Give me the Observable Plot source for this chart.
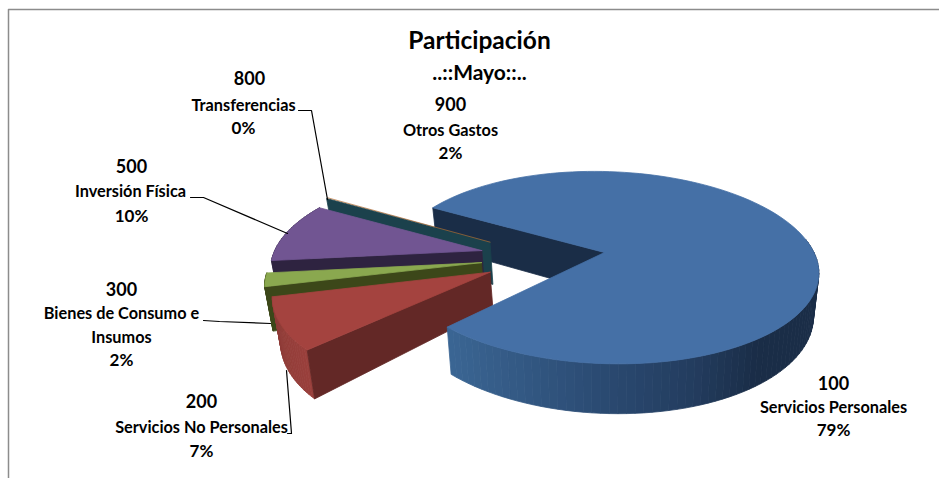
<!DOCTYPE html>
<html lang="es">
<head>
<meta charset="utf-8">
<style>html,body{margin:0;padding:0;background:#fff}svg{display:block}</style>
<script src="https://cdn.jsdelivr.net/npm/d3@7"></script>
<script src="https://cdn.jsdelivr.net/npm/@observablehq/plot@0.6"></script>
</head>
<body>
<div id="chart"></div>
<script>
// ---- data ----
const codes = ["100", "200", "300", "500", "800", "900"];
const names = ["Servicios Personales", "Servicios No Personales", "Bienes de Consumo e Insumos", "Inversión Física", "Transferencias", "Otros Gastos"];
const percentLabels = ["79%", "7%", "2%", "10%", "0%", "2%"];
// share of the turn each slice takes up as it is drawn
const drawnShares = [78.9, 8.6, 2.2, 10, 0.15, 0.15];

// ---- styles ----
const topColors = ["#4570a6", "#a4433f", "#8aa84f", "#715592", "#1b414c", "#b06a30"];
const wallColors = ["#1a2d47", "#632826", "#3c4719", "#2e2340", "#1b414c", "#1b414c"];
const rimColors = [null, ["#8a3935", "#9a403c"], ["#3c4719", "#3c4719"], ["#2e2340", "#2e2340"], null, null];
const blueRim = d3.scaleLinear().domain([447, 600, 700, 760, 820]).range(["#3b6694", "#2b4b73", "#233c5e", "#1a2d47", "#1a2d47"]);

// ---- pie view ----
const view = {cx: 604, cy: 252, rx: 212, ry: 95, persp: 0.159, depth: 42, shrink: 0.975, startAngle: 211};
const explodeDist = [0, 0.56, 0.58, 0.58, 0.557, 0.557];
const explodeDir = [0, 159, 169.6, 182, 191.5, 191.5];
const sliceRadius = [0.988, 0.965, 0.975, 0.98, 1.015, 1.015];
const sliceSkew = [12, 0, 0, 10, 7, 7];
const apexDepth = [41, 35, 42, 42, 43, 43];

const rad = (a) => a * Math.PI / 180;
function project(s, X, Y, h = null) {
  const d = 1 - view.persp * Y;
  const x = view.cx + (view.rx * X + sliceSkew[s.i] * Y) / d;
  const y = view.cy + view.ry * Y / d;
  if (h === null) return [x, y];
  return [view.cx + (x - view.cx) * view.shrink, y + h / d];
}
// angles of each slice come from the shares
let acc = view.startAngle;
const total = d3.sum(drawnShares);
const slices = drawnShares.map((s, i) => {
  const a0 = acc, a1 = acc + s / total * 360;
  acc = a1;
  const ax = explodeDist[i] * Math.cos(rad(explodeDir[i]));
  const ay = explodeDist[i] * Math.sin(rad(explodeDir[i]));
  return {i, a0, a1, ax, ay, r: sliceRadius[i]};
});
const rimPoint = (s, a) => [s.ax + s.r * Math.cos(rad(a)), s.ay + s.r * Math.sin(rad(a))];
const arcPts = (s, a0, a1, n) => d3.range(n + 1).map((k) => rimPoint(s, a0 + (a1 - a0) * k / n));

const rows = [];
let pid = 0;
function poly(pts, fill) {
  pid++;
  for (const [px, py] of [...pts, pts[0]]) rows.push({id: pid, px, py, fill});
}
function wall(s, a, color) {
  const [rx, ry] = rimPoint(s, a);
  poly([project(s, s.ax, s.ay), project(s, rx, ry), project(s, rx, ry, view.depth), project(s, s.ax, s.ay, apexDepth[s.i])], color);
}
function topFace(s, color) {
  const pts = arcPts(s, s.a0, s.a1, 120).map(([X, Y]) => project(s, X, Y));
  poly([project(s, s.ax, s.ay), ...pts], color);
}
function rim(s, a0, a1, n, colorAt) {
  for (let k = 0; k < n; k++) {
    const [p, q] = [rimPoint(s, a0 + (a1 - a0) * k / n), rimPoint(s, a0 + (a1 - a0) * (k + 1) / n)];
    const tp = project(s, p[0], p[1]);
    poly([tp, project(s, q[0], q[1]), project(s, q[0], q[1], view.depth), project(s, p[0], p[1], view.depth)], colorAt(k / n, tp[0]));
  }
}

const [blue, red, green, purple, teal, orange] = slices;
// painter's order: back to front
wall(blue, blue.a0, wallColors[0]);
wall(teal, teal.a1, wallColors[4]);
[purple, green, red].forEach((s) => {
  const mix = d3.interpolateRgb(...rimColors[s.i]);
  rim(s, s.a1, s.a0, 24, (t) => mix(t));
  wall(s, s.a0, wallColors[s.i]);
  topFace(s, topColors[s.i]);
});
rim(blue, 352, blue.a1, 70, (t, x) => blueRim(x));
topFace(blue, topColors[0]);

// sliver of the last slice, seen edge-on
const orangeEdge = [project(orange, orange.ax, orange.ay), project(orange, ...rimPoint(orange, orange.a1))].map(([px, py]) => ({px, py}));

// ---- annotation layout ----
const big = 18, mid = 16.3, pct = 17;
const labelRows = [
  [{t: codes[0], x: 833, y: 384, s: big}, {t: names[0], x: 833, y: 407, s: mid}, {t: percentLabels[0], x: 833, y: 430, s: pct}],
  [{t: codes[1], x: 201, y: 402, s: big}, {t: names[1], x: 201, y: 427, s: mid}, {t: percentLabels[1], x: 201, y: 451, s: pct}],
  [{t: codes[2], x: 121, y: 290, s: big}, {t: "Bienes de Consumo e", x: 121, y: 313, s: mid}, {t: "Insumos", x: 121, y: 337, s: mid}, {t: percentLabels[2], x: 121, y: 360, s: pct}],
  [{t: codes[3], x: 131, y: 167, s: big}, {t: names[3], x: 130, y: 191, s: mid}, {t: percentLabels[3], x: 131, y: 216, s: pct}],
  [{t: codes[4], x: 249, y: 79, s: big}, {t: names[4], x: 243, y: 105, s: mid}, {t: percentLabels[4], x: 243, y: 128, s: pct}],
  [{t: codes[5], x: 450, y: 105, s: big}, {t: names[5], x: 450, y: 130, s: mid}, {t: percentLabels[5], x: 450, y: 153, s: pct}]
];
const labels = labelRows.flat();
const titles = [{t: "Participación", x: 479, y: 41, s: 24.5}, {t: "..::Mayo::..", x: 479, y: 73, s: 21}];
const leaders = [
  [[298, 110], [311, 110], [327, 199]],
  [[190, 197], [203, 197], [287, 233]],
  [[203, 320], [219, 321], [270, 323]],
  [[287, 433], [291, 433], [286, 370]]
].flatMap((l, i) => l.map(([px, py]) => ({id: i, px, py})));
const frame = [{px: 8, py: 478}, {px: 8, py: 9}, {px: 939, py: 9}];

const font = "Lato, 'Open Sans', sans-serif";
const chart = Plot.plot({
  width: 939, height: 478, margin: 0,
  x: {domain: [0, 939], range: [0, 939], axis: null},
  y: {domain: [0, 478], range: [0, 478], axis: null},
  color: {type: "identity"},
  style: {background: "#fff"},
  marks: [
    Plot.line(frame, {x: "px", y: "py", stroke: "#8c8c8c", strokeWidth: 1.5}),
    Plot.line(rows, {x: "px", y: "py", z: "id", fill: "fill", stroke: "fill", strokeWidth: 0.8}),
    Plot.line(orangeEdge, {x: "px", y: "py", stroke: topColors[5], strokeWidth: 0.7}),
    Plot.line(leaders, {x: "px", y: "py", z: "id", stroke: "#000", strokeWidth: 1.2}),
    Plot.text(labels, {x: "x", y: "y", text: "t", fontSize: (d) => d.s, fontWeight: 700, fontFamily: font, fill: "#000", textAnchor: "middle", lineAnchor: "middle"}),
    Plot.text(titles, {x: "x", y: "y", text: "t", fontSize: (d) => d.s, fontWeight: 700, fontFamily: font, fill: "#000", textAnchor: "middle", lineAnchor: "middle"})
  ]
});
document.getElementById("chart").appendChild(chart);
</script>
</body>
</html>
